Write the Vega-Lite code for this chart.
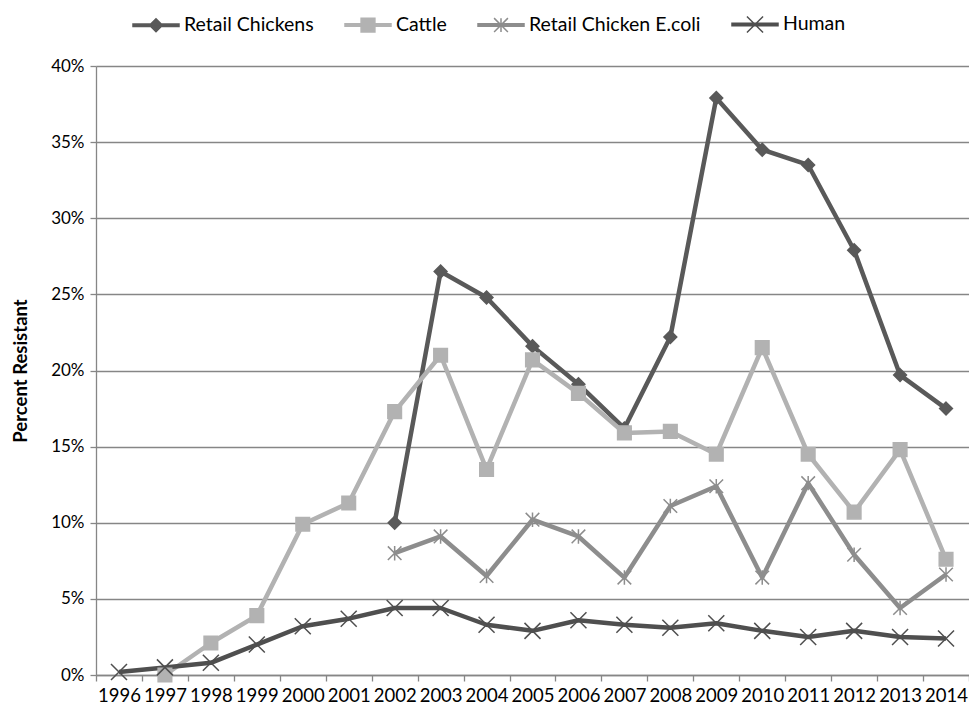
{
  "$schema": "https://vega.github.io/schema/vega-lite/v6.json",
  "width": 873,
  "height": 609,
  "autosize": {"type": "none"},
  "padding": {"left": 96, "top": 66, "right": 0, "bottom": 37},
  "background": "white",
  "config": {
    "font": "Lato",
    "view": {"stroke": null}
  },
  "data": {
    "values": [
      {"year": "2002", "series": "Retail Chickens", "value": 10.0},
      {"year": "2003", "series": "Retail Chickens", "value": 26.5},
      {"year": "2004", "series": "Retail Chickens", "value": 24.8},
      {"year": "2005", "series": "Retail Chickens", "value": 21.6},
      {"year": "2006", "series": "Retail Chickens", "value": 19.1},
      {"year": "2007", "series": "Retail Chickens", "value": 16.2},
      {"year": "2008", "series": "Retail Chickens", "value": 22.2},
      {"year": "2009", "series": "Retail Chickens", "value": 37.9},
      {"year": "2010", "series": "Retail Chickens", "value": 34.5},
      {"year": "2011", "series": "Retail Chickens", "value": 33.5},
      {"year": "2012", "series": "Retail Chickens", "value": 27.9},
      {"year": "2013", "series": "Retail Chickens", "value": 19.7},
      {"year": "2014", "series": "Retail Chickens", "value": 17.5},
      {"year": "1997", "series": "Cattle", "value": 0.0},
      {"year": "1998", "series": "Cattle", "value": 2.1},
      {"year": "1999", "series": "Cattle", "value": 3.9},
      {"year": "2000", "series": "Cattle", "value": 9.9},
      {"year": "2001", "series": "Cattle", "value": 11.3},
      {"year": "2002", "series": "Cattle", "value": 17.3},
      {"year": "2003", "series": "Cattle", "value": 21.0},
      {"year": "2004", "series": "Cattle", "value": 13.5},
      {"year": "2005", "series": "Cattle", "value": 20.7},
      {"year": "2006", "series": "Cattle", "value": 18.5},
      {"year": "2007", "series": "Cattle", "value": 15.9},
      {"year": "2008", "series": "Cattle", "value": 16.0},
      {"year": "2009", "series": "Cattle", "value": 14.5},
      {"year": "2010", "series": "Cattle", "value": 21.5},
      {"year": "2011", "series": "Cattle", "value": 14.5},
      {"year": "2012", "series": "Cattle", "value": 10.7},
      {"year": "2013", "series": "Cattle", "value": 14.8},
      {"year": "2014", "series": "Cattle", "value": 7.6},
      {"year": "2002", "series": "Retail Chicken E.coli", "value": 8.0},
      {"year": "2003", "series": "Retail Chicken E.coli", "value": 9.1},
      {"year": "2004", "series": "Retail Chicken E.coli", "value": 6.5},
      {"year": "2005", "series": "Retail Chicken E.coli", "value": 10.2},
      {"year": "2006", "series": "Retail Chicken E.coli", "value": 9.1},
      {"year": "2007", "series": "Retail Chicken E.coli", "value": 6.4},
      {"year": "2008", "series": "Retail Chicken E.coli", "value": 11.1},
      {"year": "2009", "series": "Retail Chicken E.coli", "value": 12.4},
      {"year": "2010", "series": "Retail Chicken E.coli", "value": 6.4},
      {"year": "2011", "series": "Retail Chicken E.coli", "value": 12.6},
      {"year": "2012", "series": "Retail Chicken E.coli", "value": 7.9},
      {"year": "2013", "series": "Retail Chicken E.coli", "value": 4.4},
      {"year": "2014", "series": "Retail Chicken E.coli", "value": 6.6},
      {"year": "1996", "series": "Human", "value": 0.2},
      {"year": "1997", "series": "Human", "value": 0.5},
      {"year": "1998", "series": "Human", "value": 0.8},
      {"year": "1999", "series": "Human", "value": 2.0},
      {"year": "2000", "series": "Human", "value": 3.2},
      {"year": "2001", "series": "Human", "value": 3.7},
      {"year": "2002", "series": "Human", "value": 4.4},
      {"year": "2003", "series": "Human", "value": 4.4},
      {"year": "2004", "series": "Human", "value": 3.3},
      {"year": "2005", "series": "Human", "value": 2.9},
      {"year": "2006", "series": "Human", "value": 3.6},
      {"year": "2007", "series": "Human", "value": 3.3},
      {"year": "2008", "series": "Human", "value": 3.1},
      {"year": "2009", "series": "Human", "value": 3.4},
      {"year": "2010", "series": "Human", "value": 2.9},
      {"year": "2011", "series": "Human", "value": 2.5},
      {"year": "2012", "series": "Human", "value": 2.9},
      {"year": "2013", "series": "Human", "value": 2.5},
      {"year": "2014", "series": "Human", "value": 2.4}
    ]
  },
  "encoding": {
    "x": {
      "field": "year",
      "type": "ordinal",
      "bandPosition": 0.5,
      "scale": {
        "type": "band",
        "paddingInner": 0,
        "paddingOuter": 0,
        "domain": ["1996","1997","1998","1999","2000","2001","2002","2003","2004","2005","2006","2007","2008","2009","2010","2011","2012","2013","2014"]
      },
      "axis": {
        "title": null,
        "labelAngle": 0,
        "tickBand": "extent",
        "domain": true,
        "domainColor": "#868686",
        "domainWidth": 1.3,
        "tickColor": "#868686",
        "tickWidth": 1.3,
        "tickSize": 6,
        "labelFontSize": 18.5,
        "labelColor": "#000000",
        "labelPadding": 5,
        "grid": false
      }
    },
    "y": {
      "field": "value",
      "type": "quantitative",
      "scale": {"domain": [0, 40], "nice": false},
      "axis": {
        "title": "Percent Resistant",
        "titleFontSize": 18.5,
        "titleFontWeight": "bold",
        "titleColor": "#000000",
        "titlePadding": 20,
        "values": [0, 5, 10, 15, 20, 25, 30, 35, 40],
        "labelExpr": "datum.value + '%'",
        "labelFontSize": 17,
        "labelColor": "#000000",
        "labelPadding": 6,
        "grid": true,
        "gridColor": "#868686",
        "gridWidth": 1.3,
        "domain": true,
        "domainColor": "#868686",
        "domainWidth": 1.3,
        "tickColor": "#868686",
        "tickWidth": 1.3,
        "tickSize": 6
      }
    }
  },
  "layer": [
    {
      "mark": {"type": "line", "strokeWidth": 4.5, "strokeJoin": "round"},
      "encoding": {
        "color": {
          "field": "series",
          "type": "nominal",
          "scale": {
            "domain": ["Retail Chickens", "Cattle", "Retail Chicken E.coli", "Human"],
            "range": ["#595959", "#b2b2b2", "#8d8d8d", "#4f4f4f"]
          },
          "legend": {
            "title": null,
            "orient": "none",
            "direction": "horizontal",
            "legendX": 36,
            "legendY": -66,
            "symbolSize": 2116,
            "symbolStrokeWidth": 1.5,
            "labelFontSize": 19.5,
            "labelColor": "#000000",
            "labelOffset": 4,
            "labelLimit": 400,
            "columnPadding": 28,
            "encode": {
              "symbols": {
                "update": {
                  "shape": {"signal": "datum.value === 'Retail Chickens' ? 'M-1,-0.055H1V0.055H-1ZM0,-0.28L0.28,0L0,0.28L-0.28,0Z' : datum.value === 'Cattle' ? 'M-1,-0.055H1V0.055H-1ZM-0.3,-0.3H0.3V0.3H-0.3Z' : datum.value === 'Retail Chicken E.coli' ? 'M-1,-0.055H1V0.055H-1ZM-0.3,-0.3L0.3,0.3M0.3,-0.3L-0.3,0.3M0,-0.3L0,0.3' : 'M-1,-0.055H1V0.055H-1ZM-0.35,-0.35L0.35,0.35M0.35,-0.35L-0.35,0.35'"},
                  "fill": {"signal": "scale('color', datum.value)"},
                  "stroke": {"signal": "scale('color', datum.value)"},
                  "strokeWidth": {"value": 1.5},
                  "opacity": {"value": 1}
                }
              }
            }
          }
        }
      }
    },
    {
      "transform": [{"filter": "datum.series === 'Retail Chickens'"}],
      "mark": {"type": "point", "shape": "M0,-0.8L0.8,0L0,0.8L-0.8,0Z", "size": 256, "fill": "#595959", "stroke": "#595959", "strokeWidth": 1.5, "opacity": 1, "fillOpacity": 1}
    },
    {
      "transform": [{"filter": "datum.series === 'Cattle'"}],
      "mark": {"type": "point", "shape": "M-0.85,-0.85H0.85V0.85H-0.85Z", "size": 256, "fill": "#b2b2b2", "stroke": "#b2b2b2", "strokeWidth": 1.5, "opacity": 1, "fillOpacity": 1}
    },
    {
      "transform": [{"filter": "datum.series === 'Retail Chicken E.coli'"}],
      "mark": {"type": "point", "shape": "M-0.85,-0.85L0.85,0.85M0.85,-0.85L-0.85,0.85M0,-0.9L0,0.9", "size": 256, "fill": "#8d8d8d", "stroke": "#8d8d8d", "strokeWidth": 1.5, "opacity": 1}
    },
    {
      "transform": [{"filter": "datum.series === 'Human'"}],
      "mark": {"type": "point", "shape": "M-1,-1L1,1M1,-1L-1,1", "size": 256, "fill": "#4f4f4f", "stroke": "#4f4f4f", "strokeWidth": 1.5, "opacity": 1}
    }
  ]
}
